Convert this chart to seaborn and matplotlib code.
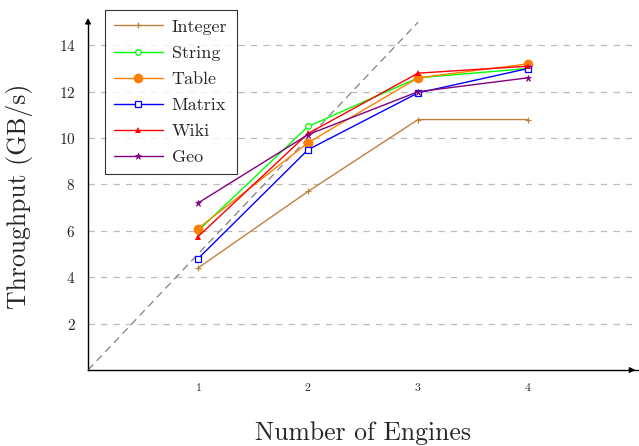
import matplotlib
matplotlib.use("Agg")
import matplotlib.pyplot as plt
import seaborn as sns

engines = [1, 2, 3, 4]
integer = [4.4, 7.7, 10.8, 10.8]
string = [6.0, 10.5, 12.6, 13.0]
table = [6.1, 9.8, 12.6, 13.2]
matrix = [4.8, 9.5, 11.95, 13.0]
wiki = [5.75, 10.2, 12.8, 13.1]
geo = [7.2, 10.15, 12.0, 12.6]

ideal_x = [0, 3]
ideal_y = [0, 15]

sns.set_style("white")
plt.rcParams['font.family'] = ['cmr10', 'DejaVu Serif']
plt.rcParams['axes.formatter.use_mathtext'] = True

fig = plt.figure(figsize=(6.39, 4.46), dpi=100)
ax = fig.add_axes([0.1377, 0.1704, 0.861, 0.780])

# ideal scaling line
ax.plot(ideal_x, ideal_y, color="gray", lw=0.9, dashes=(6, 4), zorder=1)

series = [
    ("Integer", integer, "#BF8040", dict(marker="+", markersize=5, mew=0.9)),
    ("String", string, "#00FF00", dict(marker="o", markersize=4, mfc="white", mew=0.9)),
    ("Table", table, "#FF8000", dict(marker="o", markersize=7, mew=0)),
    ("Matrix", matrix, "#0000FF", dict(marker="s", markersize=5, mfc="white", mew=0.9)),
    ("Wiki", wiki, "#FF0000", dict(marker="^", markersize=5, mew=0)),
    ("Geo", geo, "#800080", dict(marker="*", markersize=5, mew=0.5)),
]
for name, vals, color, mk in series:
    sns.lineplot(x=engines, y=vals, ax=ax, color=color, lw=1.0, label=name,
                 markeredgecolor=color, **mk)

ax.set_xlim(0, 5)
ax.set_ylim(0, 15)
ax.set_xticks(engines)
ax.set_yticks([2, 4, 6, 8, 10, 12, 14])
ax.tick_params(axis="both", length=4, width=0.6, direction="inout", color="#999999")
ax.tick_params(axis="x", labelsize=8.5, pad=6)
ax.tick_params(axis="y", labelsize=11, pad=7)
ax.yaxis.grid(True, color="#BBBBBB", lw=0.9, dashes=(5, 5))
ax.xaxis.grid(False)
for s in ["top", "right"]:
    ax.spines[s].set_visible(False)
for s in ["left", "bottom"]:
    ax.spines[s].set_color("black")
    ax.spines[s].set_linewidth(1.0)

# arrow heads on axes
ax.annotate("", xy=(1.0, 0), xytext=(0.98, 0), xycoords="axes fraction",
            arrowprops=dict(arrowstyle="-|>", color="black", lw=1.0, mutation_scale=8))
ax.annotate("", xy=(0, 1.02), xytext=(0, 0.99), xycoords="axes fraction",
            arrowprops=dict(arrowstyle="-|>", color="black", lw=1.0, mutation_scale=8),
            annotation_clip=False)

ax.set_xlabel("Number of Engines", fontsize=18.5)
ax.set_ylabel("Throughput (GB/s)", fontsize=18.5)
ax.xaxis.set_label_coords(0.5, -0.148)
ax.yaxis.set_label_coords(-0.1, 0.5)

leg = ax.legend(loc="upper left", bbox_to_anchor=(0.031, 1.0345), borderaxespad=0,
                fontsize=13, frameon=True, fancybox=False, edgecolor="black",
                handlelength=2.7, handletextpad=0.5, labelspacing=0.58, borderpad=0.5)
leg.get_frame().set_linewidth(0.8)

fig.savefig("out.png", dpi=100)
